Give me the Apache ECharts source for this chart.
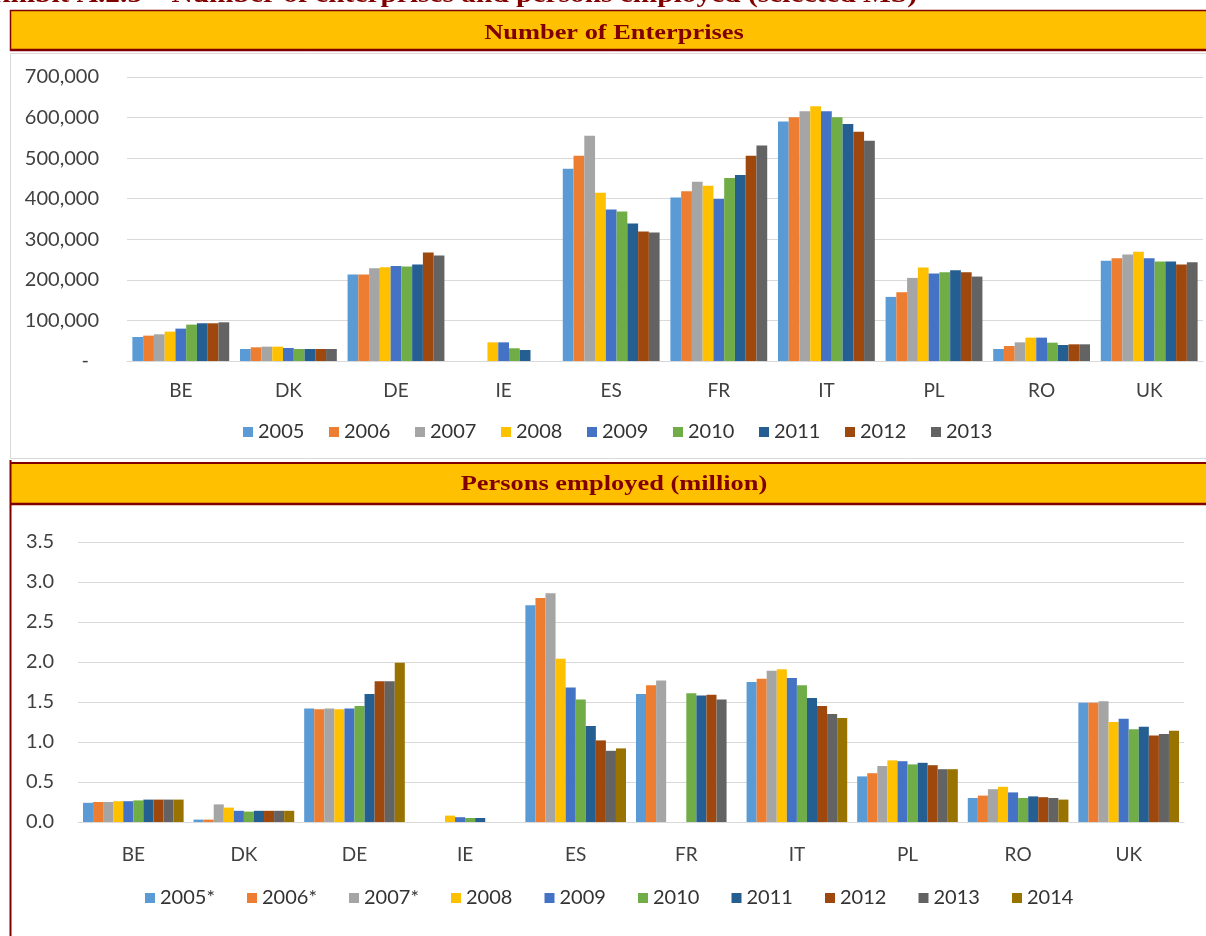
<!DOCTYPE html>
<html>
<head>
<meta charset="utf-8">
<script src="https://cdn.jsdelivr.net/npm/echarts@6/dist/echarts.min.js"></script>
<style>
  html, body { margin: 0; padding: 0; background: #ffffff; }
  #chart { width: 1206px; height: 936px; }
</style>
</head>
<body>
<div id="chart"></div>
<script>
// Member states shown on both panels
const countries = ['BE', 'DK', 'DE', 'IE', 'ES', 'FR', 'IT', 'PL', 'RO', 'UK'];

// Number of enterprises, one array per year (order follows countries)
const enterpriseYears = ['2005', '2006', '2007', '2008', '2009', '2010', '2011', '2012', '2013'];
const ent2005 = [59200, 29600, 213000, null, 473800, 403000, 590600, 158000, 29600, 246800];
const ent2006 = [62500, 33700, 213000, null, 505900, 418700, 600500, 169500, 37000, 253400];
const ent2007 = [65800, 35400, 228700, null, 555300, 441700, 615300, 204800, 46000, 262400];
const ent2008 = [72400, 35400, 231000, 46000, 414600, 431900, 627600, 230300, 57600, 269000];
const ent2009 = [79800, 32100, 234400, 46000, 373500, 399000, 615300, 215500, 57600, 253400];
const ent2010 = [89700, 29600, 232800, 31300, 368500, 450800, 600500, 218800, 45200, 245100];
const ent2011 = [93000, 29600, 237700, 27100, 338900, 458200, 584000, 223700, 39500, 245100];
const ent2012 = [93000, 29600, 267300, null, 319200, 505900, 565100, 218800, 41100, 237700];
const ent2013 = [95400, 29600, 260000, null, 316700, 531400, 542900, 208100, 41100, 243500];

// Persons employed (million), one array per year
const employedYears = ['2005*', '2006*', '2007*', '2008', '2009', '2010', '2011', '2012', '2013', '2014'];
const emp2005 = [0.24, 0.03, 1.42, null, 2.71, 1.60, 1.75, 0.57, 0.30, 1.49];
const emp2006 = [0.25, 0.03, 1.41, null, 2.80, 1.71, 1.79, 0.61, 0.33, 1.49];
const emp2007 = [0.25, 0.22, 1.42, null, 2.86, 1.77, 1.89, 0.70, 0.41, 1.51];
const emp2008 = [0.26, 0.18, 1.41, 0.08, 2.04, null, 1.91, 0.77, 0.44, 1.25];
const emp2009 = [0.26, 0.14, 1.42, 0.06, 1.68, null, 1.80, 0.76, 0.37, 1.29];
const emp2010 = [0.27, 0.13, 1.45, 0.05, 1.53, 1.61, 1.71, 0.72, 0.30, 1.16];
const emp2011 = [0.28, 0.14, 1.60, 0.05, 1.20, 1.58, 1.55, 0.74, 0.32, 1.19];
const emp2012 = [0.28, 0.14, 1.76, null, 1.02, 1.59, 1.45, 0.71, 0.31, 1.08];
const emp2013 = [0.28, 0.14, 1.76, null, 0.89, 1.53, 1.35, 0.66, 0.30, 1.10];
const emp2014 = [0.28, 0.14, 1.99, null, 0.92, null, 1.30, 0.66, 0.28, 1.14];

// Tick values of the two value axes
const enterpriseTicks = [0, 100000, 200000, 300000, 400000, 500000, 600000, 700000];
const employedTicks = [0.0, 0.5, 1.0, 1.5, 2.0, 2.5, 3.0, 3.5];

// Panel headings
const mainTitle = 'Exhibit A.2.5 \u2013 Number of enterprises and persons employed (selected MS)';
const topHeading = 'Number of Enterprises';
const bottomHeading = 'Persons employed (million)';

// ---- styling ----
const yearColors = ['#5B9BD5', '#ED7D31', '#A5A5A5', '#FFC000', '#4472C4',
                    '#70AD47', '#255E91', '#9E480E', '#636363', '#997300'];
const FONT = 'Lato, "Open Sans", sans-serif';
const SERIF = '"Liberation Serif", "DejaVu Serif", serif';
const DARK_RED = '#800000';
const HEAD_YELLOW = '#FFC000';
const GRID_GREY = '#D9D9D9';
const LABEL_COLOR = '#404040';

const enterpriseData = [ent2005, ent2006, ent2007, ent2008, ent2009, ent2010, ent2011, ent2012, ent2013];
const employedData = [emp2005, emp2006, emp2007, emp2008, emp2009, emp2010, emp2011, emp2012, emp2013, emp2014];

const series = [];
enterpriseYears.forEach((name, i) => {
  series.push({
    type: 'bar', name, xAxisIndex: 0, yAxisIndex: 0,
    data: enterpriseData[i],
    barGap: '0%', barCategoryGap: '10%',
    itemStyle: { color: yearColors[i] }
  });
});
employedYears.forEach((name, i) => {
  series.push({
    type: 'bar', name, xAxisIndex: 1, yAxisIndex: 1,
    data: employedData[i],
    barGap: '0%', barCategoryGap: '9%',
    itemStyle: { color: yearColors[i] }
  });
});

const catAxis = (gridIndex, margin) => ({
  type: 'category', gridIndex, data: countries,
  axisTick: { show: false },
  axisLine: { lineStyle: { color: GRID_GREY, width: 1 } },
  axisLabel: { fontFamily: FONT, fontSize: 19, color: LABEL_COLOR, margin }
});

const legendBase = {
  icon: 'rect', itemWidth: 10, itemHeight: 10, orient: 'horizontal',
  selectedMode: false, padding: 0,
  textStyle: { fontFamily: FONT, fontSize: 20, color: '#333333', lineHeight: 20 }
};

const graphics = [
  // page heading running above the panels
  { type: 'text', x: 917, y: -4, scaleX: 1.2, silent: true,
    style: { text: mainTitle, x: 0, y: 0, textAlign: 'right', textVerticalAlign: 'middle',
             font: 'bold 24.5px ' + SERIF, fill: DARK_RED } },
  // first heading band
  { type: 'rect', shape: { x: 10, y: 10, width: 1200, height: 40 }, silent: true,
    style: { fill: HEAD_YELLOW } },
  { type: 'line', shape: { x1: 10, y1: 10.5, x2: 1206, y2: 10.5 }, silent: true,
    style: { stroke: DARK_RED, lineWidth: 1.5 } },
  { type: 'line', shape: { x1: 10, y1: 50, x2: 1206, y2: 50 }, silent: true,
    style: { stroke: DARK_RED, lineWidth: 2.5 } },
  { type: 'line', shape: { x1: 10.5, y1: 10, x2: 10.5, y2: 51 }, silent: true,
    style: { stroke: DARK_RED, lineWidth: 1.5 } },
  { type: 'text', x: 614, y: 33, scaleX: 1.2, silent: true,
    style: { text: topHeading, x: 0, y: 0, textAlign: 'center', textVerticalAlign: 'middle',
             font: 'bold 22px ' + SERIF, fill: DARK_RED } },
  // light frame around the first chart
  { type: 'rect', shape: { x: 10.5, y: 53.5, width: 1210, height: 405 }, silent: true,
    style: { fill: 'none', stroke: GRID_GREY, lineWidth: 1 } },
  // second heading band
  { type: 'rect', shape: { x: 10, y: 463, width: 1200, height: 41 }, silent: true,
    style: { fill: HEAD_YELLOW } },
  { type: 'line', shape: { x1: 10, y1: 463, x2: 1206, y2: 463 }, silent: true,
    style: { stroke: DARK_RED, lineWidth: 2 } },
  { type: 'line', shape: { x1: 10, y1: 504, x2: 1206, y2: 504 }, silent: true,
    style: { stroke: DARK_RED, lineWidth: 2.5 } },
  { type: 'line', shape: { x1: 10.5, y1: 460, x2: 10.5, y2: 936 }, silent: true,
    style: { stroke: DARK_RED, lineWidth: 2 } },
  { type: 'text', x: 614, y: 484, scaleX: 1.2, silent: true,
    style: { text: bottomHeading, x: 0, y: 0, textAlign: 'center', textVerticalAlign: 'middle',
             font: 'bold 22px ' + SERIF, fill: DARK_RED } }
];

const option = {
  animation: false,
  backgroundColor: '#ffffff',
  textStyle: { fontFamily: FONT },
  color: yearColors,
  grid: [
    { left: 127, right: 3, top: 77, height: 284 },
    { left: 78, right: 22, top: 542, height: 280 }
  ],
  xAxis: [catAxis(0, 20), catAxis(1, 23)],
  yAxis: [
    {
      type: 'value', gridIndex: 0,
      min: enterpriseTicks[0], max: enterpriseTicks[enterpriseTicks.length - 1],
      interval: enterpriseTicks[1] - enterpriseTicks[0],
      axisLine: { show: false }, axisTick: { show: false },
      splitLine: { lineStyle: { color: GRID_GREY, width: 1 } },
      axisLabel: {
        fontFamily: FONT, fontSize: 20, color: LABEL_COLOR, margin: 28,
        formatter: v => v === 0 ? '{dash|-}' : v.toLocaleString('en-US'),
        rich: { dash: { fontFamily: FONT, fontSize: 20, color: LABEL_COLOR, padding: [0, 10, 0, 0] } }
      }
    },
    {
      type: 'value', gridIndex: 1,
      min: employedTicks[0], max: employedTicks[employedTicks.length - 1],
      interval: employedTicks[1] - employedTicks[0],
      axisLine: { show: false }, axisTick: { show: false },
      splitLine: { lineStyle: { color: GRID_GREY, width: 1 } },
      axisLabel: {
        fontFamily: FONT, fontSize: 20, color: LABEL_COLOR, margin: 24,
        formatter: v => v.toFixed(1)
      }
    }
  ],
  legend: [
    Object.assign({}, legendBase, { data: enterpriseYears, left: 243, top: 422, itemGap: 24.6 }),
    Object.assign({}, legendBase, { data: employedYears, left: 145, top: 888, itemGap: 32.1 })
  ],
  graphic: { elements: graphics },
  series
};

const chart = echarts.init(document.getElementById('chart'), null, { renderer: 'canvas' });
chart.setOption(option);
</script>
</body>
</html>
